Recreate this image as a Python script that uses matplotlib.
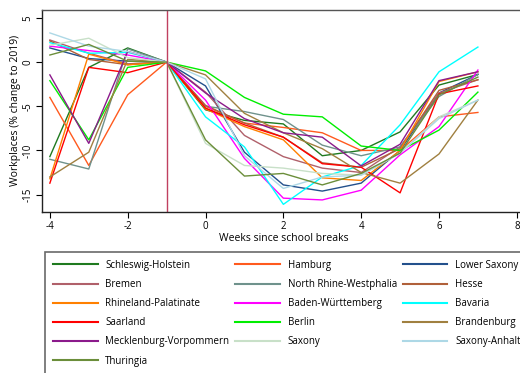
import numpy as np
import matplotlib
matplotlib.use("Agg")
import matplotlib.pyplot as plt

plt.rcParams['font.family'] = ['Open Sans', 'DejaVu Sans']

weeks = np.arange(-4, 8)

# legend order (row by row, three per row)
states = ["Schleswig-Holstein", "Hamburg", "Lower Saxony",
          "Bremen", "North Rhine-Westphalia", "Hesse",
          "Rhineland-Palatinate", "Baden-Württemberg", "Bavaria",
          "Saarland", "Berlin", "Brandenburg",
          "Mecklenburg-Vorpommern", "Saxony", "Saxony-Anhalt",
          "Thuringia"]

colors = ["#1f7a1f", "#ff5a1e", "#23508c",
          "#b0606a", "#6f928c", "#b0603a",
          "#ff8000", "#ff00ff", "#00ffff",
          "#ff0000", "#00ee00", "#a08040",
          "#8b1a8b", "#c8e0c8", "#add8e6",
          "#6b8e3a"]

workplaces = {
    "Schleswig-Holstein": [-10.7, -0.6, 1.6, 0, -5.4, -6.6, -7.0, -10.6, -10.0, -7.9, -2.6, -1.4],
    "Hamburg": [-4.0, -11.7, -3.7, 0, -5.0, -6.9, -7.4, -8.0, -10.0, -10.0, -6.2, -5.7],
    "Lower Saxony": [1.6, 0.4, 0.1, 0, -2.7, -10.2, -13.9, -14.6, -13.7, -10.0, -3.5, -1.4],
    "Bremen": [2.5, 1.0, -0.2, 0, -3.4, -8.3, -10.7, -12.0, -12.5, -9.6, -3.5, -2.0],
    "North Rhine-Westphalia": [-11.0, -12.1, 1.5, 0, -5.0, -5.6, -6.5, -9.4, -10.6, -9.6, -3.9, -1.4],
    "Hesse": [2.4, 0.3, -0.3, 0, -4.9, -6.9, -8.5, -11.4, -11.9, -9.8, -3.2, -2.0],
    "Rhineland-Palatinate": [-13.2, 0.9, -0.3, 0, -5.3, -7.3, -8.8, -13.1, -13.4, -10.0, -2.2, -1.1],
    "Baden-Württemberg": [1.8, 1.3, 0.8, 0, -4.3, -10.9, -15.4, -15.6, -14.5, -10.5, -7.3, -0.9],
    "Bavaria": [2.2, 1.0, 1.1, 0, -6.2, -9.6, -16.1, -13.0, -11.7, -7.1, -1.1, 1.7],
    "Saarland": [-13.7, -0.6, -1.2, 0, -5.2, -7.1, -8.5, -11.5, -11.9, -14.8, -3.6, -2.7],
    "Berlin": [-2.1, -8.8, -0.6, 0, -1.0, -4.0, -5.9, -6.2, -9.5, -10.0, -7.7, -3.4],
    "Brandenburg": [-13.0, -10.2, 0.3, 0, -1.45, -5.8, -8.0, -9.8, -12.5, -13.7, -10.4, -4.3],
    "Mecklenburg-Vorpommern": [-1.45, -9.2, 1.2, 0, -3.5, -6.4, -8.0, -8.5, -11.75, -9.3, -2.1, -1.1],
    "Saxony": [1.9, 2.7, 0.5, 0, -9.2, -11.7, -12.0, -12.6, -12.8, -10.3, -6.2, -4.3],
    "Saxony-Anhalt": [3.3, 1.8, 1.2, 0, -1.9, -10.6, -14.3, -13.0, -12.8, -10.3, -6.4, -4.3],
    "Thuringia": [0.8, 2.0, 0.1, 0, -8.8, -12.9, -12.6, -13.9, -12.6, -10.3, -3.7, -1.7],
}

fig = plt.figure(figsize=(5.2, 3.73), dpi=100)
ax = fig.add_axes([41.7 / 520, 1 - 212.3 / 373, (525 - 41.7) / 520, (212.3 - 9.5) / 373])

handles = []
for name, c in zip(states, colors):
    h, = ax.plot(weeks, workplaces[name], color=c, lw=1.0, label=name)
    handles.append(h)

ax.axvline(-1, color="#c04060", lw=1.0)

ax.set_xlim(-4.21, 8.21)
ax.set_ylim(-17, 5.95)
ax.set_xticks(np.arange(-4, 9, 2))
ax.set_yticks([5, 0, -5, -10, -15])
ax.set_yticklabels(["5", "0", "-5", "-10", "-15"], rotation=90, va="center")
ax.set_xticklabels([str(v) for v in range(-4, 9, 2)])
ax.tick_params(labelsize=7, length=4, width=0.8, pad=2)
ax.set_xlabel("Weeks since school breaks", fontsize=7.5, labelpad=1)
ax.set_ylabel("Workplaces (% change to 2019)", fontsize=7.5, labelpad=1)
for s in ax.spines.values():
    s.set_linewidth(1.0)
    s.set_color("#222222")
ax.spines["top"].set_color("#555555")

# reorder so the legend reads row by row with 3 columns
order = [0, 3, 6, 9, 12, 15, 1, 4, 7, 10, 13, 2, 5, 8, 11, 14]
leg = fig.legend([handles[i] for i in order], [states[i] for i in order],
                 loc="upper left", bbox_to_anchor=(45 / 520, 1 - 252 / 373),
                 ncol=3, fontsize=7, frameon=True, fancybox=False,
                 borderaxespad=0, borderpad=0.8, handlelength=4.6,
                 handletextpad=0.8, columnspacing=0.6, labelspacing=0.84)
leg.get_frame().set_edgecolor("#444444")
leg.get_frame().set_linewidth(1.2)
for ln in leg.get_lines():
    ln.set_linewidth(1.5)

fig.savefig("out.png", dpi=100)
